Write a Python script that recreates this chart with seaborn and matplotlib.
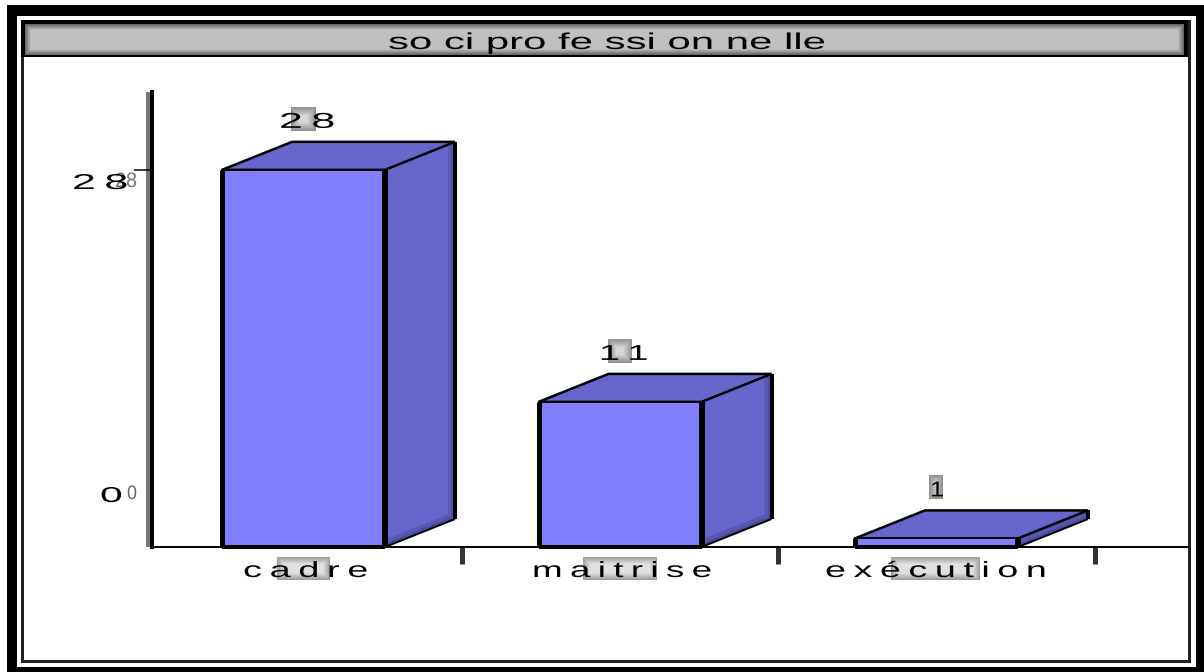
"""
Rebuild of the "socioprofessionnelle" pseudo-3D bar chart.
Front faces come from seaborn, side and top faces are derived from those bars.
"""

import numpy as np
import pandas as pd
import matplotlib
matplotlib.use("Agg")
import matplotlib.pyplot as plt
from matplotlib.patches import Rectangle
from matplotlib.patheffects import AbstractPathEffect
from matplotlib.transforms import Affine2D
import seaborn as sns

# ── Data ──────────────────────────────────────
categories = ["cadre", "maitrise", "exécution"]
values = [28, 11, 1]
title_text = "so ci pro fe ssi on ne lle"
y_ticks = [28]

# ── Style ─────────────────────────────────────
W, H = 1204, 672
FRONT = "#8080ff"
SIDE = "#6666cc"
THIN = "\u2009"

sns.set_theme(style="white")
plt.rcParams["font.family"] = ["Liberation Sans", "DejaVu Sans"]


class StretchX(AbstractPathEffect):
    """Horizontal stretch around cx, the original glyphs are all squeezed wide."""

    def __init__(self, sx, cx):
        super().__init__()
        self.sx = sx
        self.cx = cx

    def draw_path(self, renderer, gc, tpath, affine, rgbFace=None):
        wide = affine + Affine2D().translate(-self.cx, 0).scale(self.sx, 1).translate(self.cx, 0)
        renderer.draw_path(gc, tpath, wide, rgbFace)


def px(v):
    """pixels to points"""
    return v * 72 / 100


def spaced(s):
    return THIN.join(s)


def grey_box(ax, x0, y0, x1, y1, light=0.88, dark=0.6, blur=7):
    """Grey patch, lighter in the middle, darker within blur px of the rim."""
    w, h = int(x1 - x0), int(y1 - y0)
    xd = np.minimum(np.arange(w) + 0.5, w - np.arange(w) - 0.5)
    yd = np.minimum(np.arange(h) + 0.5, h - np.arange(h) - 0.5)
    dist = np.minimum.outer(yd, xd)
    img = dark + (light - dark) * np.clip(dist / blur, 0, 1)
    ax.imshow(img, extent=(x0, x1, y1, y0), cmap="gray", vmin=0, vmax=1,
              aspect="auto", interpolation="bilinear", zorder=2)


def wide_text(ax, x0, x1, baseline, s, fontsize, color="black"):
    """Text fitted to the pixel span x0..x1 by stretching it sideways."""
    cx = (x0 + x1) / 2
    t = ax.text(cx, baseline, s, ha="center", va="baseline", fontsize=fontsize, color=color)
    natural = t.get_window_extent(fig.canvas.get_renderer()).width
    t.set_path_effects([StretchX((x1 - x0) / natural, cx)])
    return t


fig = plt.figure(figsize=(W / 100, H / 100), dpi=100, facecolor="white")

# ── Frame and title bar, drawn in pixel space ─
bg = fig.add_axes([0, 0, 1, 1], zorder=0)
bg.set_xlim(0, W)
bg.set_ylim(H, 0)
bg.axis("off")

# outer black band, then white, then the thin inner line
bg.add_patch(Rectangle((7, 5), W - 7, H - 5, fc="black", ec="none", zorder=0))
bg.add_patch(Rectangle((17, 16), 1179, 651, fc="white", ec="none", zorder=0.1))
bg.add_patch(Rectangle((21, 20), 1170, 643, fc="#222222", ec="none", zorder=0.2))
bg.add_patch(Rectangle((23.5, 22), 1164.5, 638, fc="white", ec="none", zorder=0.3))
bg.add_patch(Rectangle((21, 20), 1167, 37, fc="black", ec="none", zorder=1))
grey_box(bg, 25, 24, 1184, 55, light=0.75, dark=0.38, blur=6)
bg.set_xlim(0, W)
bg.set_ylim(H, 0)

overlay = fig.add_axes([0, 0, 1, 1], zorder=5)
overlay.set_xlim(0, W)
overlay.set_ylim(H, 0)
overlay.axis("off")
overlay.patch.set_alpha(0)

wide_text(overlay, 388, 826, 49, title_text, 16.5)

# ── Bars ──────────────────────────────────────
ax = fig.add_axes([152 / W, 1 - 547 / H, (1188 - 152) / W, (547 - 92) / H], zorder=3)
ax.patch.set_alpha(0)

df = pd.DataFrame({"categorie": categories, "effectif": values})
sns.barplot(data=df, x="categorie", y="effectif", color=FRONT, saturation=1,
            width=0.515, edgecolor="black", linewidth=px(2), ax=ax, zorder=3)

# the original baseline sits a little above the zero of its scale
y_floor = 0.37
ax.set_xlim(-0.4787, 2.7946)
ax.set_ylim(y_floor, y_floor + 455 / 13.65)
ax.set_xlabel("")
ax.set_ylabel("")

# depth of the fake extrusion, in data units
dx = 70 / 316.5
dy = 28 / 13.65

for bar in ax.patches:
    x0, w, h = bar.get_x(), bar.get_width(), bar.get_height()
    x1 = x0 + w
    side = ax.fill([x1, x1 + dx, x1 + dx, x1], [y_floor, y_floor + dy, h + dy, h], fc=SIDE,
                   ec="none", zorder=2.5, clip_on=False)[0]
    # soft dark rim along the right and lower edges of the side face
    for rim_lw in (14, 7):
        rim, = ax.plot([x1 + dx, x1 + dx, x1], [h + dy, y_floor + dy, y_floor], color="#2a2a66",
                       lw=px(rim_lw), alpha=0.22, zorder=2.55)
        rim.set_clip_path(side)
    ax.plot([x1, x1 + dx], [y_floor, y_floor + dy], color="black", lw=px(2),
            solid_capstyle="butt", zorder=2.7, clip_on=False)
    ax.fill([x0, x0 + dx, x1 + dx, x1], [h, h + dy, h + dy, h], fc=SIDE, ec="black",
            lw=px(2.5), joinstyle="miter", zorder=2.6, clip_on=False)
    # heavier outline on the front face and back edge
    ax.plot([x0, x0], [y_floor, h], color="black", lw=px(5), solid_capstyle="butt", zorder=4)
    ax.plot([x1, x1], [y_floor, h], color="black", lw=px(6), solid_capstyle="butt", zorder=4)
    ax.plot([x0, x1], [y_floor, y_floor], color="black", lw=px(4), solid_capstyle="butt",
            zorder=4, clip_on=False)
    ax.plot([x1 + dx, x1 + dx], [y_floor + dy, h + dy], color="black", lw=px(4),
            solid_capstyle="butt", zorder=4)

# ── Axes ──────────────────────────────────────
sns.despine(ax=ax, top=True, right=True)
ax.spines["left"].set_linewidth(px(4))
ax.spines["left"].set_color("black")
ax.spines["bottom"].set_linewidth(px(2))
ax.spines["bottom"].set_color("black")
ax.spines["bottom"].set_zorder(2)
# grey shadow to the left of the y axis
bg.plot([148, 148], [92, 547], color="#777777", lw=px(4), solid_capstyle="butt")

ax.set_yticks(y_ticks)
ax.set_yticklabels([])
ax.tick_params(axis="y", left=True, length=px(18), width=px(1.5), color="black")
ax.set_xticks([0.5, 1.5, 2.5])
ax.set_xticklabels([])
ax.tick_params(axis="x", bottom=True, length=px(17), width=px(5), color="#333333", pad=0)

# ── Labels ────────────────────────────────────
to_px = lambda x, y: overlay.transData.inverted().transform(ax.transData.transform((x, y)))

label_boxes = [(277, 330), (583, 657), (891, 980)]
label_spans = [(243, 368), (532, 712), (825, 1046)]
for name, box, span in zip(categories, label_boxes, label_spans):
    grey_box(bg, box[0], 557, box[1], 580)
    wide_text(overlay, span[0], span[1], 577, spaced(name), 15.8)

value_boxes = [(291, 316), (608, 632), (929, 943)]
value_spans = [(279, 335), (599, 648), (930, 944)]
for i, val in enumerate(values):
    ytop = to_px(i, val + dy)[1]
    box, span = value_boxes[i], value_spans[i]
    grey_box(bg, box[0], ytop - 35, box[1], ytop - 11, light=0.85, dark=0.55, blur=9)
    wide_text(overlay, span[0], span[1], ytop - 14, spaced(str(val)), 15.5)

# y labels sit away from their ticks in the original, with a small grey twin
wide_text(overlay, 115, 137, 187, str(y_ticks[0]), 15, color="#777777")
wide_text(overlay, 72, 128, 189, spaced(str(y_ticks[0])), 15.5)
wide_text(overlay, 100, 123, 502, "0", 15.5)
wide_text(overlay, 127, 137, 499, "0", 14, color="#666666")

fig.savefig("out.png", dpi=100)
plt.close(fig)
print("[INFO] saved out.png")
